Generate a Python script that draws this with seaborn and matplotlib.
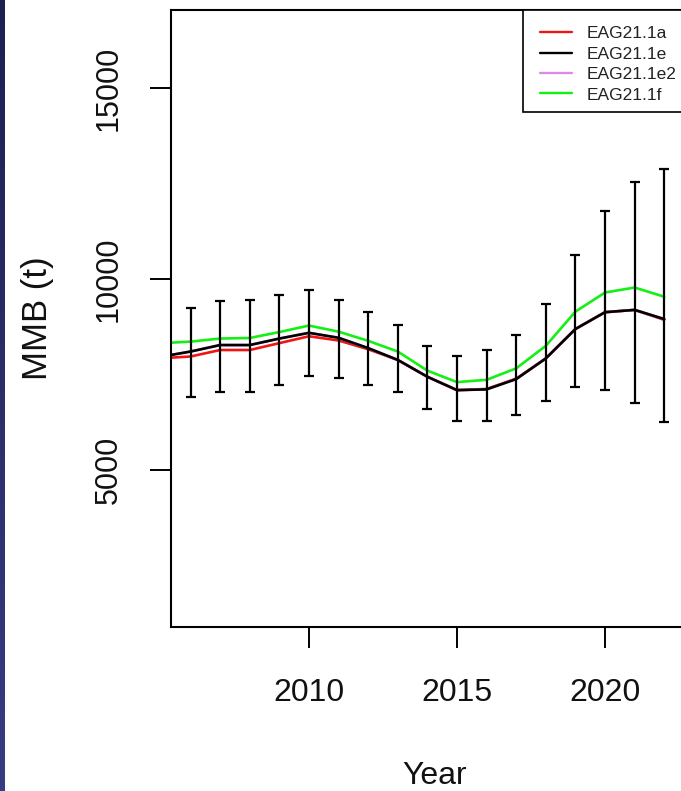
import numpy as np
import pandas as pd
import matplotlib
matplotlib.use("Agg")
import matplotlib.pyplot as plt
from matplotlib.lines import Line2D
from matplotlib.patches import Rectangle
from matplotlib.colors import LinearSegmentedColormap
import seaborn as sns

# Mature male biomass (t) by model run
years = list(range(2005, 2023))
mmb_1a = [7925, 7970, 8140, 8140, 8320, 8500, 8390, 8160, 7880, 7440,
          7090, 7120, 7390, 7920, 8690, 9130, 9190, 8930]
mmb_1e = [7965, 8100, 8270, 8270, 8440, 8590, 8460, 8190, 7880, 7440,
          7090, 7110, 7380, 7920, 8690, 9130, 9190, 8950]
mmb_1e2 = [7965, 8100, 8270, 8270, 8440, 8590, 8460, 8190, 7880, 7440,
           7090, 7110, 7380, 7920, 8690, 9130, 9190, 8950]
mmb_1f = [8318, 8360, 8440, 8455, 8610, 8780, 8620, 8380, 8100, 7600,
          7300, 7360, 7660, 8250, 9145, 9645, 9775, 9535]

# Confidence interval around EAG21.1e
ci_years = list(range(2006, 2023))
ci_lower = [6910, 7035, 7035, 7225, 7460, 7410, 7235, 7040, 6605, 6290,
            6290, 6435, 6795, 7180, 7100, 6765, 6245]
ci_upper = [9235, 9425, 9450, 9590, 9705, 9450, 9145, 8790, 8255, 7985,
            8135, 8545, 9340, 10620, 11790, 12530, 12870]

model_names = ["EAG21.1a", "EAG21.1e", "EAG21.1e2", "EAG21.1f"]
model_colors = ["#f01414", "#000000", "#dc8ce4", "#14f014"]
draw_order = ["EAG21.1a", "EAG21.1e2", "EAG21.1e", "EAG21.1f"]

x_ticks = [2010, 2015, 2020]
y_ticks = [5000, 10000, 15000]

sns.set_style("white")
plt.rcParams["font.family"] = ["Liberation Sans", "DejaVu Sans"]

W, H = 681, 791
fig = plt.figure(figsize=(W / 100, H / 100), dpi=100)
fig.patch.set_facecolor("white")

# slide edge strip on the left
strip = fig.add_axes([0, 0, 5 / W, 1])
strip.imshow(np.linspace(0, 1, 256).reshape(-1, 1), aspect="auto",
             cmap=LinearSegmentedColormap.from_list("edge", ["#1e2050", "#383c82"]))
strip.set_axis_off()

ax = fig.add_axes([171 / W, (H - 627) / H, 527 / W, 617 / H])

df = pd.DataFrame({
    "Year": years * 4,
    "MMB": mmb_1a + mmb_1e + mmb_1e2 + mmb_1f,
    "Model": np.repeat(model_names, len(years)),
})
palette = dict(zip(model_names, model_colors))
sns.lineplot(data=df, x="Year", y="MMB", hue="Model", hue_order=draw_order,
             palette=palette, estimator=None, sort=False, lw=1.9,
             legend=False, ax=ax)

center = np.array(mmb_1e[1:])
yerr = [center - np.array(ci_lower), np.array(ci_upper) - center]
ax.errorbar(ci_years, center, yerr=yerr, fmt="none", ecolor="black",
            elinewidth=1.6, capsize=3.4, capthick=1.6, zorder=4)

ax.set_xlim(2005.34, 2023.14)
ax.set_ylim(890, 17040)
ax.set_xticks(x_ticks)
ax.set_yticks(y_ticks)
ax.tick_params(axis="both", bottom=True, left=True, direction="out",
               length=15, width=1.4, color="black", labelcolor="#111111")
ax.tick_params(axis="x", pad=22, labelsize=23)
ax.tick_params(axis="y", pad=19, labelsize=22, labelrotation=90)
for lab in ax.get_yticklabels():
    lab.set_va("center")

for side in ["left", "right", "top", "bottom"]:
    ax.spines[side].set_visible(True)
    ax.spines[side].set_color("black")
    ax.spines[side].set_linewidth(1.5)

ax.set_xlabel("Year", fontsize=23, color="#111111")
ax.set_ylabel("MMB (t)", fontsize=25, color="#111111")
ax.xaxis.set_label_coords(0.5, -0.2165)
ax.yaxis.set_label_coords(-0.2220, 0.5)

# legend box anchored in the top-right corner
ax.add_patch(Rectangle((0.668, 0.8347), 0.332, 0.1653, transform=ax.transAxes,
                       facecolor="white", edgecolor="black", lw=1.2, zorder=5,
                       clip_on=False))
handles = [Line2D([], [], color=c, lw=1.7) for c in model_colors]
leg = ax.legend(handles, model_names, loc="upper left",
                bbox_to_anchor=(0.7002, 0.9736), frameon=False, fontsize=12.5,
                borderpad=0, borderaxespad=0, handlelength=1.85,
                handletextpad=0.85, labelspacing=0.30)
leg.set_zorder(6)
for t in leg.get_texts():
    t.set_color("#222222")

fig.savefig("out.png", dpi=100)
